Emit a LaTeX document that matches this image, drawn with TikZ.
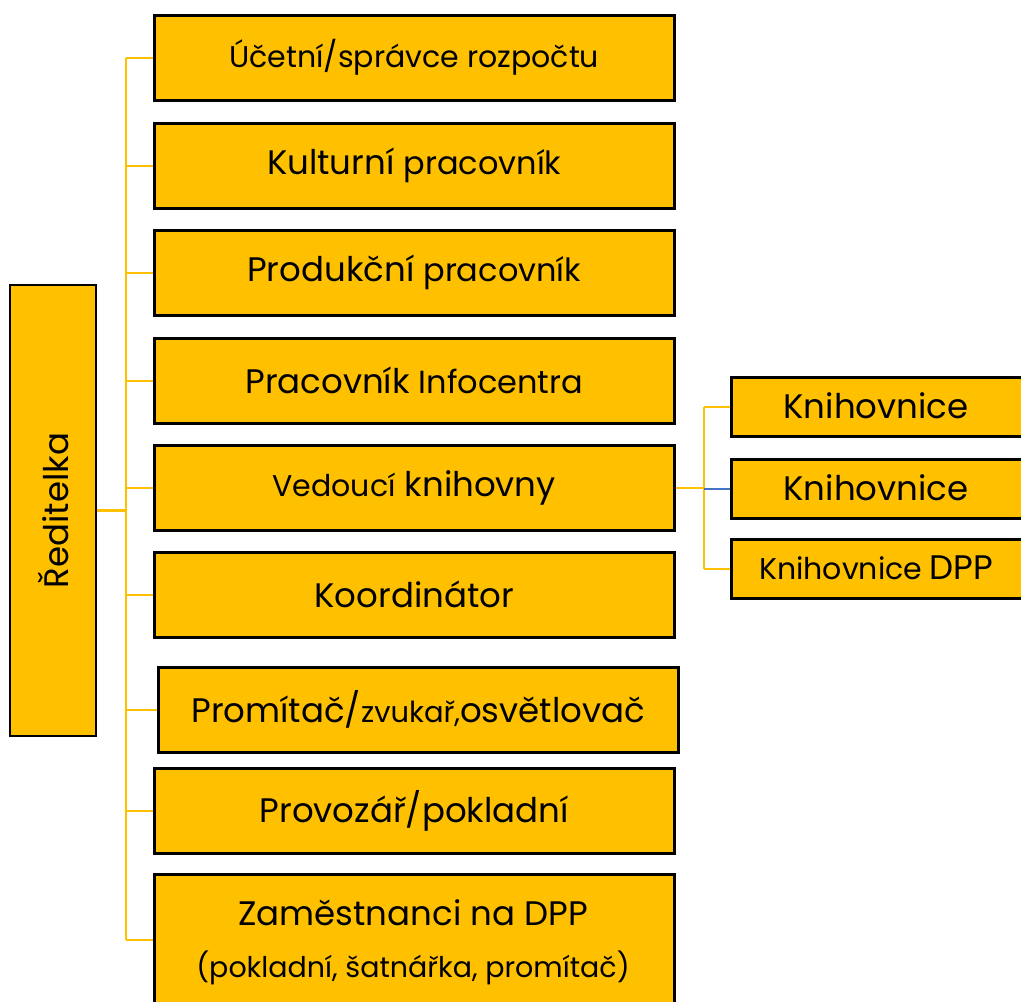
\documentclass[tikz,border=0pt]{standalone}
\usepackage{fontspec}
\setmainfont{Poppins}
\definecolor{gold}{HTML}{FFC000}
\definecolor{lineblue}{HTML}{4472C4}
\newcommand{\Lg}{\fontsize{34}{38}\selectfont}
\newcommand{\Md}{\fontsize{30}{34}\selectfont}
\newcommand{\Mp}{\fontsize{32}{36}\selectfont}
\newcommand{\Sm}{\fontsize{29}{33}\selectfont}
\newcommand{\gap}{\hspace{9pt}}
\begin{document}
\begin{tikzpicture}[x=1pt,y=-1pt,
  box/.style={draw=black,line width=2.5pt,fill=gold,inner sep=0pt},
  conn/.style={draw=gold,line width=2.2pt}]
\useasboundingbox (0,0) rectangle (1021,1002);
\clip (0,0) rectangle (1021,1002);
\fill[white] (0,0) rectangle (1021,1002);
% director
\node[box,minimum width=86pt,minimum height=451pt] (dir) at (53,510.5) {};
\node[rotate=90] (dirt) at (dir.center) {\Lg Ředitelka};
% main boxes
\node[box,minimum width=520pt,minimum height=85pt,anchor=north west] (b1) at (153,14) {};
\node (t1) at (b1.center) {\Md Účetní/správce rozpočtu};
\node[box,minimum width=520pt,minimum height=85pt,anchor=north west] (b2) at (153,122) {};
\node (t2) at (b2.center) {{\Lg Kulturní}\gap{\Mp pracovník}};
\node[box,minimum width=520pt,minimum height=85pt,anchor=north west] (b3) at (153,229) {};
\node (t3) at (b3.center) {{\Lg Produkční}\gap{\Mp pracovník}};
\node[box,minimum width=520pt,minimum height=85pt,anchor=north west] (b4) at (153,337) {};
\node (t4) at (b4.center) {{\Lg Pracovník}\gap{\Mp Infocentra}};
\node[box,minimum width=520pt,minimum height=85pt,anchor=north west] (b5) at (153,444) {};
\node (t5) at (b5.center) {{\Md Vedoucí}\gap{\Lg knihovny}};
\node[box,minimum width=520pt,minimum height=85pt,anchor=north west] (b6) at (153,551) {};
\node (t6) at (b6.center) {\Lg Koordinátor};
\node[box,minimum width=520pt,minimum height=85pt,anchor=north west] (b7) at (157,666) {};
\node (t7) at (b7.center) {{\Lg Promítač/}{\Sm zvukař,}{\Lg osvětlovač}};
\node[box,minimum width=520pt,minimum height=85pt,anchor=north west] (b8) at (153,767) {};
\node (t8) at (b8.center) {\Lg Provozář/pokladní};
\node[box,minimum width=520pt,minimum height=150pt,anchor=north west] (b9) at (153,873) {};
\node (b9a) at (413,913) {\Lg Zaměstnanci na DPP};
\node (b9b) at (413,968) {\fontsize{28.5}{32}\selectfont (pokladní, šatnářka, promítač)};
% library boxes
\node[box,minimum width=300pt,minimum height=59pt,anchor=north west] (k1) at (730,376) {};
\node (tk1) at (876,405.5) {\Lg Knihovnice};
\node[box,minimum width=300pt,minimum height=59pt,anchor=north west] (k2) at (730,458) {};
\node (tk2) at (876,487.5) {\Lg Knihovnice};
\node[box,minimum width=300pt,minimum height=59pt,anchor=north west] (k3) at (730,538) {};
\node (tk3) at (876,567.5) {{\Md Knihovnice}\hspace{7pt}{\Lg DPP}};
% connectors
\coordinate (tr) at (126,0);
\coordinate (kt) at (704,0);
\draw[conn] (dir.east |- 0,510.5) -- (126,510.5);
\draw[conn] (tr |- b1.west) -- (tr |- 0,940);
\foreach \b in {b1,b2,b3,b4,b5,b6,b7,b8} {\draw[conn] (tr |- \b.west) -- (\b.west);}
\draw[conn] (tr |- 0,940) -- (b9.west |- 0,940);
\draw[conn] (b5.east) -- (kt |- b5.east);
\draw[conn] (kt |- k1.west) -- (kt |- k3.west);
\draw[conn] (kt |- k1.west) -- (k1.west);
\draw[conn] (kt |- k3.west) -- (k3.west);
\draw[lineblue,line width=2pt] (kt |- k2.west) -- (k2.west);
\end{tikzpicture}
\end{document}
